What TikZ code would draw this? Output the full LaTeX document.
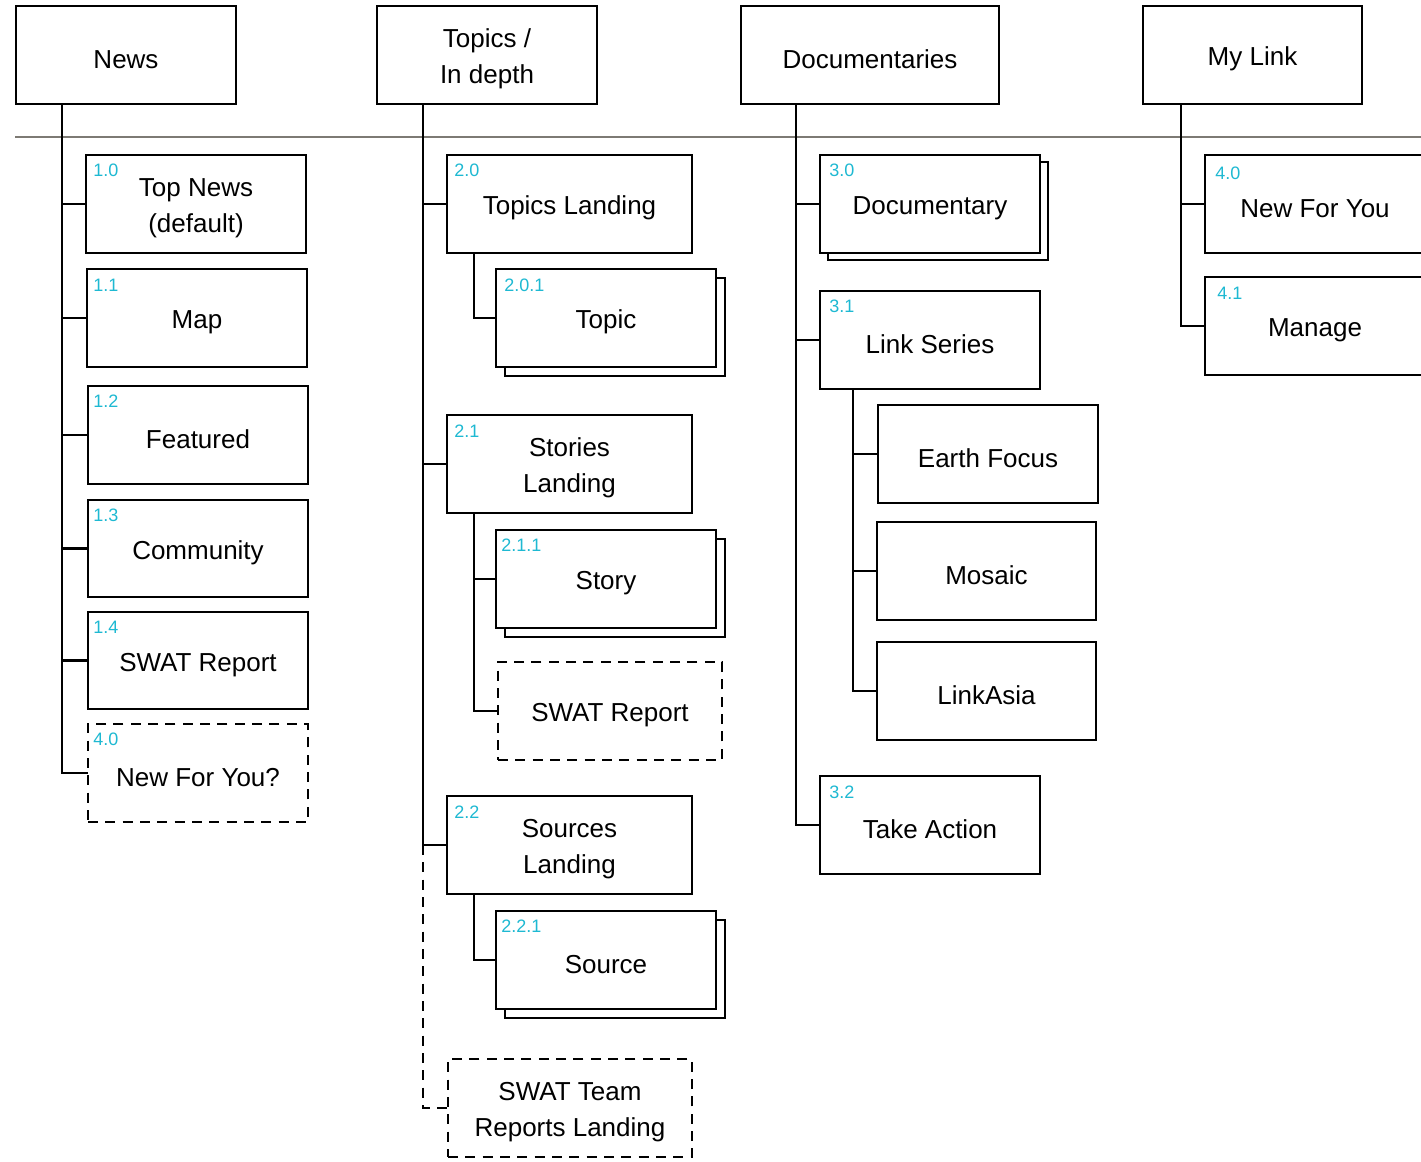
\documentclass[tikz,border=0pt]{standalone}
\usepackage{fontspec}
\setmainfont{Liberation Sans}
\definecolor{numcyan}{RGB}{30,185,210}
\definecolor{rulegray}{RGB}{125,122,116}
\newcommand\numlab[4]{\node[num] (#1) at ([shift={#3}]#2.north west) {#4};}
% \bx{style}{name}{x1}{y1}{x2}{y2}{text}
\newcommand\bx[7]{\node[#1, minimum width={(#5-#3)*0.75pt}, minimum height={(#6-#4)*0.75pt}]
  (#2) at ({(#3+#5)/2},{(#4+#6)/2}) {#7};}
\begin{document}
\begin{tikzpicture}[x=0.75pt,y=-0.75pt,
  box/.style={draw, line width=2.1pt, fill=white, inner sep=0pt, outer sep=0pt, align=center,
    font=\fontsize{19.5}{27}\selectfont},
  oneline/.style={text height=20pt},
  twoline/.style={text height=47pt, text depth=4.2pt},
  dbox/.style={box, dash pattern=on 7.5pt off 5.5pt},
  backbox/.style={draw, line width=2.1pt, fill=white},
  num/.style={text=numcyan, font=\fontsize{13.5}{16}\selectfont, anchor=north west, inner sep=0pt},
  conn/.style={line width=2.1pt},
  dconn/.style={conn, dash pattern=on 7.5pt off 5.5pt},
  rulel/.style={draw=rulegray, line width=0.9pt}]
\useasboundingbox (0,0) rectangle (1421,1162);
\clip (0,0) rectangle (1421,1162);

% horizontal rule
\coordinate (rl) at (15,137);
\coordinate (rr) at (1421,137);
\draw[rulel] (rl) -- (rr);

% headers
\bx{box,oneline}{news}{16}{6}{236}{104}{News}
\bx{box,twoline}{topics}{377}{6}{597}{104}{Topics /\\In depth}
\bx{box,oneline}{docs}{741}{6}{999}{104}{Documentaries}
\bx{box,oneline}{mylink}{1143}{6}{1362}{104}{My Link}

% trunk coordinates
\coordinate (t1) at (62,104);
\coordinate (t2) at (423,104);
\coordinate (t3) at (796,104);
\coordinate (t4) at (1181,104);
\coordinate (s20) at (474,253);
\coordinate (s21) at (474,513);
\coordinate (s22) at (474,894);
\coordinate (s31) at (853,389);

% ---------- column 1 ----------
\bx{box,twoline}{n10}{86}{155}{306}{253}{Top News\\(default)}
\bx{box,oneline}{n11}{87}{269}{307}{367}{Map}
\bx{box,oneline}{n12}{88}{386}{308}{484}{Featured}
\bx{box,oneline}{n13}{88}{500}{308}{597}{Community}
\bx{box,oneline}{n14}{88}{612}{308}{709}{SWAT Report}
\bx{dbox,oneline}{n1x}{88}{724}{308}{822}{New For You?}
\numlab{l10}{n10}{(7,9)}{1.0}
\numlab{l11}{n11}{(6,10)}{1.1}
\numlab{l12}{n12}{(5,9)}{1.2}
\numlab{l13}{n13}{(5,9)}{1.3}
\numlab{l14}{n14}{(5,9)}{1.4}
\numlab{l1x}{n1x}{(5,9)}{4.0}
\draw[conn] (t1) |- (n1x.west);
\foreach \n in {n10,n11,n12,n13,n14}{\draw[conn] (\n.west) -- (\n.west -| t1);}

% ---------- column 2 ----------
\draw[backbox] (505,278) rectangle (725,376);
\draw[backbox] (505,539) rectangle (725,637);
\draw[backbox] (505,920) rectangle (725,1018);
\bx{box,oneline}{n20}{447}{155}{692}{253}{Topics Landing}
\bx{box,oneline}{n201}{496}{269}{716}{367}{Topic}
\bx{box,twoline}{n21}{447}{415}{692}{513}{Stories\\Landing}
\bx{box,oneline}{n211}{496}{530}{716}{628}{Story}
\bx{dbox,oneline}{swat2}{498}{662}{722}{760}{SWAT Report}
\bx{box,twoline}{n22}{447}{796}{692}{894}{Sources\\Landing}
\bx{box,oneline}{n221}{496}{911}{716}{1009}{Source}
\bx{dbox,twoline}{swatteam}{448}{1059}{692}{1157}{SWAT Team\\Reports Landing}
\numlab{l20}{n20}{(7,9)}{2.0}
\numlab{l201}{n201}{(8,10)}{2.0.1}
\numlab{l21}{n21}{(7,10)}{2.1}
\numlab{l211}{n211}{(5,9)}{2.1.1}
\numlab{l22}{n22}{(7,10)}{2.2}
\numlab{l221}{n221}{(5,9)}{2.2.1}
\draw[conn] (t2) |- (n22.west);
\draw[dconn] (n22.west -| t2) |- (swatteam.west);
\foreach \n in {n20,n21}{\draw[conn] (\n.west) -- (\n.west -| t2);}
\draw[conn] (s20) |- (n201.west);
\draw[conn] (s21) |- (swat2.west);
\draw[conn] (n211.west) -- (n211.west -| s21);
\draw[conn] (s22) |- (n221.west);

% ---------- column 3 ----------
\draw[backbox] (828,162) rectangle (1048,260);
\bx{box,oneline}{n30}{820}{155}{1040}{253}{Documentary}
\bx{box,oneline}{n31}{820}{291}{1040}{389}{Link Series}
\bx{box,oneline}{earth}{878}{405}{1098}{503}{Earth Focus}
\bx{box,oneline}{mosaic}{877}{522}{1096}{620}{Mosaic}
\bx{box,oneline}{linkasia}{877}{642}{1096}{740}{LinkAsia}
\bx{box,oneline}{n32}{820}{776}{1040}{874}{Take Action}
\numlab{l30}{n30}{(9,9)}{3.0}
\numlab{l31}{n31}{(9,9)}{3.1}
\numlab{l32}{n32}{(9,10)}{3.2}
\draw[conn] (t3) |- (n32.west);
\foreach \n in {n30,n31}{\draw[conn] (\n.west) -- (\n.west -| t3);}
\draw[conn] (s31) |- (linkasia.west);
\foreach \n in {earth,mosaic}{\draw[conn] (\n.west) -- (\n.west -| s31);}

% ---------- column 4 ----------
\bx{box,oneline}{n40}{1205}{155}{1425}{253}{New For You}
\bx{box,oneline}{n41}{1205}{277}{1425}{375}{Manage}
\numlab{l40}{n40}{(10,12)}{4.0}
\numlab{l41}{n41}{(12,10)}{4.1}
\draw[conn] (t4) |- (n41.west);
\draw[conn] (n40.west) -- (n40.west -| t4);
\end{tikzpicture}
\end{document}
